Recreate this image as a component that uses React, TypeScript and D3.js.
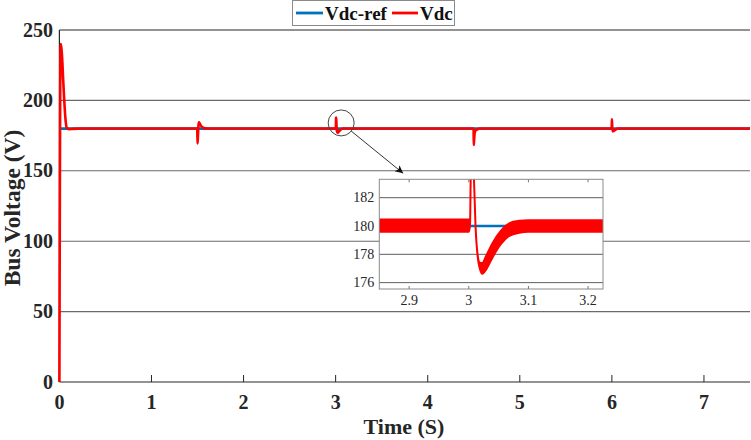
import React, { useRef, useEffect } from 'react';
import * as d3 from 'd3';

// Vdc measured bus voltage (V) against time (s), main view
const vdcTime = [
  0, 0.013, 0.02, 0.03, 0.04, 0.05, 0.06, 0.07, 0.08, 0.1, 0.15, 0.25,
  1.497, 1.5, 1.505, 1.51, 1.515, 1.525, 1.54, 1.56, 1.58, 1.62,
  2.998, 3.002, 3.0045, 3.006, 3.0087, 3.0113, 3.0146, 3.0225, 3.04, 3.054, 3.068, 3.085,
  4.498, 4.5, 4.504, 4.51, 4.52, 4.54, 4.57,
  5.998, 6.0, 6.004, 6.01, 6.02, 6.04, 6.07, 7.5,
];
const vdcValue = [
  0, 240, 238, 230, 216, 203, 192, 184, 180.5, 179.6, 179.8, 180,
  180, 169.5, 175, 182, 184.4, 183.5, 181.8, 180.6, 180.1, 180,
  180, 180, 187.5, 187.8, 183.3, 180, 178, 177, 178.3, 179.2, 179.8, 180,
  180, 168.3, 172, 177, 178.7, 179.5, 180,
  180, 186.6, 181, 178, 178.3, 179.3, 180, 180,
];

// Vdc-ref
const refTime = [0, 7.5];
const refValue = [180, 180];

// zoomed window around t = 3 s
const insetTime = [2.85, 3.0, 3.002, 3.0045, 3.006, 3.0087, 3.0113, 3.0146, 3.0185, 3.0225, 3.029, 3.04, 3.054, 3.068, 3.085, 3.1, 3.225];
const insetVdc = [180.03, 180.03, 180, 187.5, 187.8, 183.3, 180, 178, 177.2, 177.0, 177.4, 178.3, 179.2, 179.75, 179.95, 180.0, 180.0];
const insetRipple = [0.43, 0.43, 0, 0, 0, 0, 0, 0.05, 0.2, 0.38, 0.48, 0.5, 0.47, 0.44, 0.42, 0.41, 0.4];

const xTicks = [0, 1, 2, 3, 4, 5, 6, 7];
const yTicks = [0, 50, 100, 150, 200, 250];
const insetXTicks = [2.9, 3, 3.1, 3.2];
const insetYTicks = [176, 178, 180, 182];

const BLUE = '#0072BD';
const RED = '#FF0000';
const SERIF = '"Liberation Serif", "Times New Roman", serif';

const App = () => {
  const Svg = useRef<SVGSVGElement>(null);

  useEffect(() => {
    const width = 751;
    const height = 440;
    const svg = d3.select(Svg.current).attr('width', width).attr('height', height);
    svg.selectAll('*').remove();

    const left = 59.4;
    const right = 750;
    const top = 30;
    const bottom = 382;

    const x = d3.scaleLinear().domain([0, 7.5]).range([left, right]);
    const y = d3.scaleLinear().domain([0, 250]).range([bottom, top]);

    svg.append('rect').attr('width', width).attr('height', height).attr('fill', '#fff');

    // grid
    svg
      .append('g')
      .selectAll('line')
      .data(yTicks.filter((d) => d > 0 && d < 250))
      .enter()
      .append('line')
      .attr('x1', left)
      .attr('x2', right)
      .attr('y1', (d) => y(d))
      .attr('y2', (d) => y(d))
      .attr('stroke', '#6a6a6a')
      .attr('stroke-width', 1.1);

    // box
    svg.append('line').attr('x1', left).attr('x2', right).attr('y1', top).attr('y2', top)
      .attr('stroke', '#262626').attr('stroke-width', 1);
    svg.append('line').attr('x1', left).attr('x2', left).attr('y1', top).attr('y2', bottom)
      .attr('stroke', '#262626').attr('stroke-width', 1.2);
    svg.append('line').attr('x1', left).attr('x2', right).attr('y1', bottom).attr('y2', bottom)
      .attr('stroke', '#262626').attr('stroke-width', 1.2);

    // x ticks (inward)
    svg
      .append('g')
      .selectAll('line')
      .data(xTicks)
      .enter()
      .append('line')
      .attr('x1', (d) => x(d))
      .attr('x2', (d) => x(d))
      .attr('y1', bottom)
      .attr('y2', bottom - 7)
      .attr('stroke', '#262626');

    svg
      .append('g')
      .selectAll('text')
      .data(xTicks)
      .enter()
      .append('text')
      .attr('x', (d) => x(d))
      .attr('y', 408.5)
      .attr('text-anchor', 'middle')
      .attr('font-family', SERIF)
      .attr('font-weight', 'bold')
      .attr('font-size', 20)
      .attr('fill', '#262626')
      .text((d) => d);

    svg
      .append('g')
      .selectAll('text')
      .data(yTicks)
      .enter()
      .append('text')
      .attr('x', 53)
      .attr('y', (d) => y(d) + 6.5)
      .attr('text-anchor', 'end')
      .attr('font-family', SERIF)
      .attr('font-weight', 'bold')
      .attr('font-size', 20)
      .attr('fill', '#262626')
      .text((d) => d);

    svg
      .append('text')
      .attr('x', 404)
      .attr('y', 434)
      .attr('text-anchor', 'middle')
      .attr('font-family', SERIF)
      .attr('font-weight', 'bold')
      .attr('font-size', 22)
      .attr('fill', '#262626')
      .text('Time (S)');

    svg
      .append('text')
      .attr('transform', `translate(20, ${(top + bottom) / 2 + 2}) rotate(-90)`)
      .attr('text-anchor', 'middle')
      .attr('font-family', SERIF)
      .attr('font-weight', 'bold')
      .attr('font-size', 23.5)
      .attr('fill', '#262626')
      .text('Bus Voltage (V)');

    // traces
    const mainLine = d3
      .line<number>()
      .x((d, i) => x(refTime[i]))
      .y((d) => y(d));
    svg.append('path').attr('d', mainLine(refValue)).attr('fill', 'none')
      .attr('stroke', BLUE).attr('stroke-width', 2.8);

    const vdcLine = d3
      .line<number>()
      .x((d, i) => x(vdcTime[i]))
      .y((d) => y(d))
      .curve(d3.curveMonotoneX);
    svg.append('path').attr('d', vdcLine(vdcValue)).attr('fill', 'none')
      .attr('stroke', RED).attr('stroke-width', 2.6).attr('stroke-linejoin', 'round');

    // inset
    const iL = 379.3;
    const iR = 603;
    const iT = 179.3;
    const iB = 289;
    const ix = d3.scaleLinear().domain([2.85, 3.225]).range([iL, iR]);
    const iy = d3.scaleLinear().domain([175.55, 183.3]).range([iB, iT]);

    svg.append('defs').append('clipPath').attr('id', 'insetClip')
      .append('rect').attr('x', iL).attr('y', iT).attr('width', iR - iL).attr('height', iB - iT);

    svg.append('rect').attr('x', iL).attr('y', iT).attr('width', iR - iL).attr('height', iB - iT)
      .attr('fill', '#fff');

    const inset = svg.append('g');
    inset
      .selectAll('line.grid')
      .data(insetYTicks)
      .enter()
      .append('line')
      .attr('x1', iL)
      .attr('x2', iR)
      .attr('y1', (d) => iy(d))
      .attr('y2', (d) => iy(d))
      .attr('stroke', '#5e5e5e')
      .attr('stroke-width', 1);

    insetXTicks.forEach((t) => {
      inset.append('line').attr('x1', ix(t)).attr('x2', ix(t)).attr('y1', iB).attr('y2', iB - 3)
        .attr('stroke', '#777');
      inset.append('line').attr('x1', ix(t)).attr('x2', ix(t)).attr('y1', iT).attr('y2', iT + 3)
        .attr('stroke', '#777');
    });

    const plot = inset.append('g').attr('clip-path', 'url(#insetClip)');
    plot.append('line').attr('x1', ix(2.85)).attr('x2', ix(3.225)).attr('y1', iy(180)).attr('y2', iy(180))
      .attr('stroke', BLUE).attr('stroke-width', 2.5);

    const band = d3
      .area<number>()
      .x((d, i) => ix(insetTime[i]))
      .y0((d, i) => iy(d - insetRipple[i]))
      .y1((d, i) => iy(d + insetRipple[i]))
      .curve(d3.curveMonotoneX);
    plot.append('path').attr('d', band(insetVdc)).attr('fill', RED).attr('stroke', RED)
      .attr('stroke-width', 2).attr('stroke-linejoin', 'round');

    inset.append('rect').attr('x', iL).attr('y', iT).attr('width', iR - iL).attr('height', iB - iT)
      .attr('fill', 'none').attr('stroke', '#8a8a8a').attr('stroke-width', 1);

    inset
      .selectAll('text.yt')
      .data(insetYTicks)
      .enter()
      .append('text')
      .attr('x', iL - 5)
      .attr('y', (d) => iy(d) + 4.7)
      .attr('text-anchor', 'end')
      .attr('font-family', SERIF)
      .attr('font-size', 14)
      .attr('fill', '#262626')
      .text((d) => d);

    inset
      .selectAll('text.xt')
      .data(insetXTicks)
      .enter()
      .append('text')
      .attr('x', (d) => ix(d))
      .attr('y', 305)
      .attr('text-anchor', 'middle')
      .attr('font-family', SERIF)
      .attr('font-size', 14)
      .attr('fill', '#262626')
      .text((d) => String(d));

    // callout circle + arrow
    const cx = x(3.06);
    const cy = y(184);
    const r = 13;
    svg.append('circle').attr('cx', cx).attr('cy', cy).attr('r', r).attr('fill', 'none')
      .attr('stroke', '#444').attr('stroke-width', 1);

    svg.select('defs').append('marker')
      .attr('id', 'arrowHead')
      .attr('viewBox', '0 0 10 10')
      .attr('refX', 10)
      .attr('refY', 5)
      .attr('markerWidth', 10)
      .attr('markerHeight', 8)
      .attr('markerUnits', 'userSpaceOnUse')
      .attr('orient', 'auto')
      .append('path')
      .attr('d', 'M0,0 L10,5 L0,10 L2.5,5 Z')
      .attr('fill', '#111');

    const tipX = ix(2.89);
    const tipY = iT - 6;
    const ang = Math.atan2(tipY - cy, tipX - cx);
    svg.append('line')
      .attr('x1', cx + r * Math.cos(ang))
      .attr('y1', cy + r * Math.sin(ang))
      .attr('x2', tipX)
      .attr('y2', tipY)
      .attr('stroke', '#333')
      .attr('stroke-width', 1)
      .attr('marker-end', 'url(#arrowHead)');

    // legend
    const lg = svg.append('g');
    lg.append('rect').attr('x', 292.5).attr('y', 0.5).attr('width', 162).attr('height', 25)
      .attr('fill', '#fff').attr('stroke', '#8a8a8a').attr('stroke-width', 1);
    lg.append('line').attr('x1', 296).attr('x2', 323).attr('y1', 13).attr('y2', 13)
      .attr('stroke', BLUE).attr('stroke-width', 2.8);
    lg.append('text').attr('x', 325).attr('y', 19.5).attr('font-family', SERIF)
      .attr('font-weight', 'bold').attr('font-size', 19).attr('fill', '#111').text('Vdc-ref');
    lg.append('line').attr('x1', 392).attr('x2', 418).attr('y1', 13).attr('y2', 13)
      .attr('stroke', RED).attr('stroke-width', 2.8);
    lg.append('text').attr('x', 420).attr('y', 19.5).attr('font-family', SERIF)
      .attr('font-weight', 'bold').attr('font-size', 19).attr('fill', '#111').text('Vdc');
  }, []);

  return (
    <svg ref={Svg} style={{ position: 'absolute', left: 0, top: 0, display: 'block' }} />
  );
};

export default App;
